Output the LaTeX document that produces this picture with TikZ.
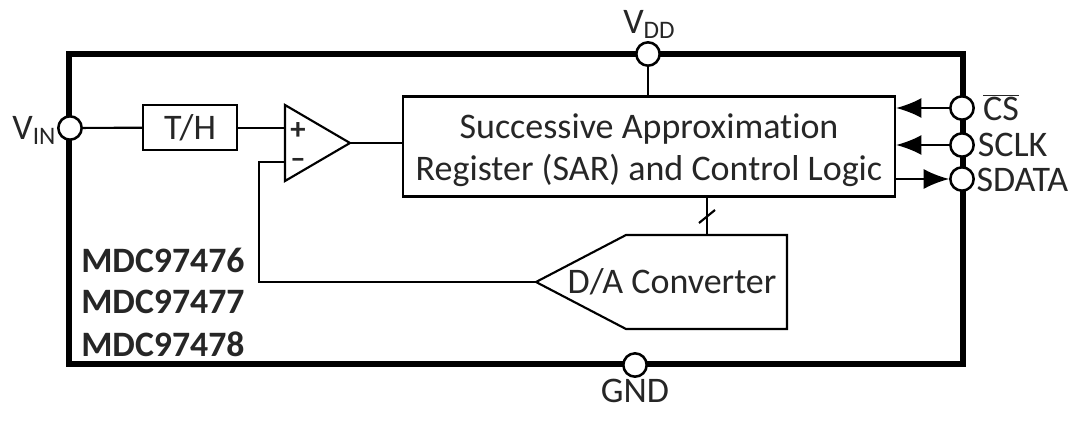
\documentclass[tikz,border=0pt]{standalone}
\usepackage{fontspec}
\setmainfont[Ligatures=CommonOff]{Carlito}
\usetikzlibrary{arrows.meta}
\tikzset{
    pin/.style={draw, circle, fill=white, line width=1.9pt, minimum size=17.5pt, inner sep=0pt},
    block/.style={draw, line width=1.6pt, inner sep=0pt},
    wire/.style={line width=1.6pt},
    feed/.style={wire, -{Latex[length=19pt,width=15pt]}, shorten >=0pt},
    label/.style={inner sep=0pt, font=\fontsize{27pt}{31.5pt}\selectfont, text=black!85},
    sign/.style={label, font=\fontsize{23pt}{23pt}\selectfont\bfseries},
    part/.style={label, anchor=west, font=\fontsize{26.8pt}{31pt}\selectfont\bfseries}
}
\begin{document}
\begin{tikzpicture}[x=0.75pt, y=-0.75pt]
    \useasboundingbox (0,0) rectangle (1080,424);

    % Package outline
    \draw[line width=3.8pt] (69,54) rectangle (963,364);

    % Blocks
    \node[block, minimum width=369pt, minimum height=75pt] (sar) at (649,146.5) {};
    \node[label, align=center] (sartext) at (649,150)
        {Successive Approximation\\Register (SAR) and Control Logic};
    \node[block, minimum width=70pt, minimum height=33.5pt, label] (th) at (190,127.5) {T/H};

    % Comparator
    \coordinate (comptop) at (285,105);
    \coordinate (compout) at (350,143);
    \coordinate (compbot) at (285,181);
    \coordinate (compplus) at (285,128);
    \coordinate (compminus) at (285,162);
    \draw[wire, line join=miter] (comptop) -- (compout) -- (compbot) -- cycle;
    \node[sign] (plus) at (298,131) {+};
    \node[sign] (minus) at (298,163) {--};

    % D/A converter
    \coordinate (dactip) at (536,282);
    \coordinate (dactap) at (707,235);
    \draw[wire] (dactip) -- (626,235) -- (787,235) -- (787,329) -- (626,329) -- cycle;
    \node[label] (dac) at (672,282) {D/A Converter};

    % Pins
    \node[pin] (vin) at (70,128) {};
    \node[pin] (vdd) at (648,54) {};
    \node[pin] (gnd) at (635,365) {};
    \node[pin] (cs) at (962,108) {};
    \node[pin] (sclk) at (962,145) {};
    \node[pin] (sdata) at (962,179) {};

    % Pin labels
    \node[label, anchor=east] (vinlabel) at (vin.west) [xshift=-0.5pt, yshift=-2pt] {V\textsubscript{IN}};
    \node[label, anchor=south] (vddlabel) at (vdd.north) [xshift=1pt, yshift=2pt] {V\textsubscript{DD}};
    \node[label, anchor=north] (gndlabel) at (gnd.south) [yshift=-1pt] {GND};
    \node[label, anchor=west] (cslabel) at (cs.east) [xshift=6pt] {$\overline{\mbox{CS}}$};
    \node[label, anchor=west] (sclklabel) at (sclk.east) [xshift=2pt] {SCLK};
    \node[label, anchor=west] (sdatalabel) at (sdata.east) [xshift=1pt, yshift=-1pt] {SDATA};

    % Part numbers
    \node[part] (parta) at (81,260) {MDC97476};
    \node[part] (partb) at (81,302) {MDC97477};
    \node[part] (partc) at (81,344) {MDC97478};

    % Signal path
    \draw[wire] (vin) -- (th);
    \draw[wire] (th.east |- compplus) -- (compplus);
    \draw[wire] (compout) -- (sar.west |- compout);
    \draw[wire] (vdd) -- (sar.north -| vdd);
    \draw[wire] (sar.south -| dactap) -- (dactap);
    \draw[wire] (dactip) -| (259,162) -- (compminus);
    \draw[line width=1.6pt] (699,223) -- (715,210);

    % Digital pins
    \draw[feed] (cs) -- (sar.east |- cs);
    \draw[feed] (sclk) -- (sar.east |- sclk);
    \draw[feed] (sar.east |- sdata) -- (sdata);
\end{tikzpicture}
\end{document}
